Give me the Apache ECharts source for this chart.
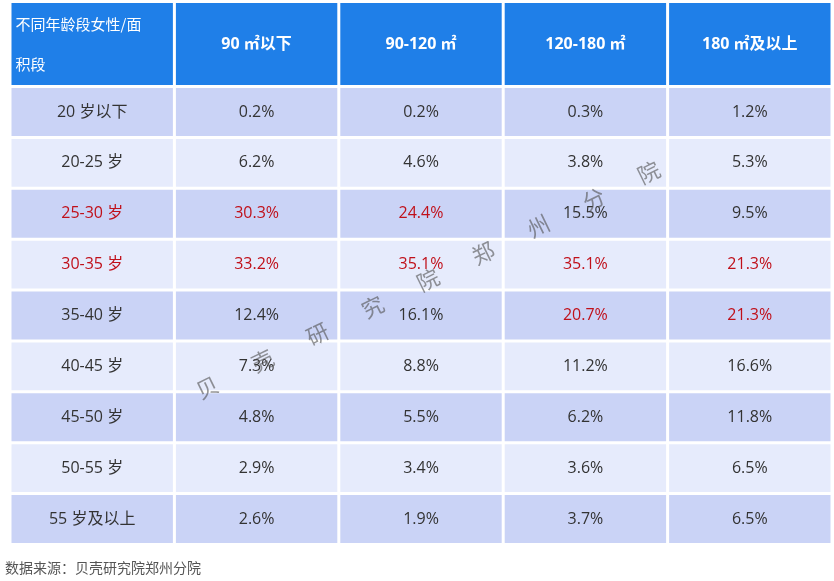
<!DOCTYPE html>
<html>
<head>
<meta charset="utf-8">
<script src="https://cdn.jsdelivr.net/npm/echarts@6/dist/echarts.min.js"></script>
<style>html,body{margin:0;padding:0;background:#fff}#main{width:834px;height:581px}</style>
</head>
<body>
<div id="main"></div>
<script>
// table content
var headers = ['不同年龄段女性/面\n积段', '90 ㎡以下', '90-120 ㎡', '120-180 ㎡', '180 ㎡及以上'];
var ages = ['20 岁以下', '20-25 岁', '25-30 岁', '30-35 岁', '35-40 岁', '40-45 岁', '45-50 岁', '50-55 岁', '55 岁及以上'];
var s90 = ['0.2%', '6.2%', '30.3%', '33.2%', '12.4%', '7.3%', '4.8%', '2.9%', '2.6%'];
var s120 = ['0.2%', '4.6%', '24.4%', '35.1%', '16.1%', '8.8%', '5.5%', '3.4%', '1.9%'];
var s180 = ['0.3%', '3.8%', '15.5%', '35.1%', '20.7%', '11.2%', '6.2%', '3.6%', '3.7%'];
var sBig = ['1.2%', '5.3%', '9.5%', '21.3%', '21.3%', '16.6%', '11.8%', '6.5%', '6.5%'];
// highlighted cells: [col, row]
var redCells = [[0,2],[1,2],[2,2],[0,3],[1,3],[2,3],[3,3],[4,3],[3,4],[4,4]];

var isRed = function(c, r){
	for(var i = 0; i < redCells.length; i++){
		if(redCells[i][0] == c && redCells[i][1] == r) return true;
	}
	return false;
};

var cols = [ages, s90, s120, s180, sBig];
var data = [];
for(var c = 0; c < headers.length; c++){
	data.push([c, 0, headers[c], 'h']);
	for(var r = 0; r < ages.length; r++){
		data.push([c, r + 1, cols[c][r], isRed(c, r) ? 'r' : 'n']);
	}
}

var FONT = '"Open Sans", "Noto Sans CJK SC", sans-serif';
var chart = echarts.init(document.getElementById('main'));
chart.setOption({
	animation: false,
	grid: {left: 10, right: 2, top: 1, bottom: 33},
	xAxis: {type: 'category', data: [0,1,2,3,4], show: false},
	yAxis: {type: 'category', data: [0,1,2,3,4,5,6,7,8,9], inverse: true, show: false},
	series: [{
		type: 'custom',
		z: 1,
		data: data,
		renderItem: function(params, api){
			var c = api.value(0), r = api.value(1);
			var item = data[params.dataIndex];
			var p = api.coord([c, r]);
			var sz = api.size([1, 1]);
			// header row is taller than body rows
			var top, h;
			if(r == 0){
				top = 3; h = 82;
			}else{
				top = 88 + (r - 1) * ((546 - 88) / 9);
				h = (546 - 88) / 9 - 3;
			}
			var x = p[0] - sz[0] / 2 + 1.5;
			var w = sz[0] - 3;
			var fill = r == 0 ? '#1f7fe8' : (r % 2 == 1 ? '#cad3f6' : '#e6ebfc');
			var color = item[3] == 'h' ? '#fff' : (item[3] == 'r' ? '#c0101a' : '#333');
			var txt;
			if(r == 0 && c == 0){
				txt = {type: 'text', style: {x: x + 4, y: top + h / 2, text: item[2], fill: '#fff',
					font: '15px "Noto Sans CJK SC", sans-serif', lineHeight: 40, verticalAlign: 'middle', align: 'left'}};
			}else{
				txt = {type: 'text', style: {x: x + w / 2, y: top + h / 2, text: item[2], fill: color,
					font: (r == 0 ? 'bold 16px ' : '16px ') + FONT,
					align: 'center', verticalAlign: 'middle'}};
			}
			return {type: 'group', children: [
				{type: 'rect', shape: {x: x, y: top, width: w, height: h}, style: {fill: fill}},
				txt
			]};
		}
	}],
	graphic: [
		{type: 'text', left: 5, top: 561, style: {text: '数据来源：贝壳研究院郑州分院', fill: '#555',
			font: '14px "Noto Sans CJK SC", sans-serif'}},
		{type: 'text', x: 428, y: 280, z: 100, rotation: Math.PI / 180 * 26,
			style: {text: '贝        壳        研        究        院        郑        州        分        院', align: 'center',
				verticalAlign: 'middle', fill: 'rgba(80,80,80,0.6)', font: '22px "Noto Sans CJK SC", sans-serif'}}
	]
});
</script>
</body>
</html>
